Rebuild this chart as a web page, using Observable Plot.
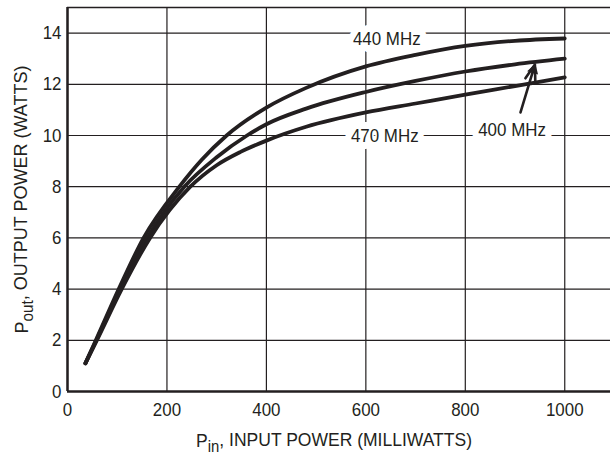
<!DOCTYPE html>
<html>
<head>
<meta charset="utf-8">
<script src="https://cdn.jsdelivr.net/npm/d3@7"></script>
<script src="https://cdn.jsdelivr.net/npm/@observablehq/plot@0.6"></script>
<style>
  html, body { margin: 0; padding: 0; background: #fff; }
  #chart svg { display: block; }
</style>
</head>
<body>
<div id="chart"></div>
<script>
// ---- data ----
const xTicks = [0, 200, 400, 600, 800, 1000];
const yTicks = [0, 2, 4, 6, 8, 10, 12, 14];

const pin440  = [36, 57, 103, 153, 225, 270, 320, 400, 480, 600, 700, 800, 900, 1000];
const pout440 = [1.1, 2.0, 4.0, 6.0, 8.0, 9.05, 10.0, 11.09, 11.86, 12.7, 13.15, 13.5, 13.7, 13.79];

const pin400  = [36, 58, 106, 160, 235, 300, 361, 400, 480, 600, 700, 800, 900, 1000];
const pout400 = [1.1, 2.0, 4.0, 6.0, 8.0, 9.15, 10.0, 10.44, 11.05, 11.7, 12.13, 12.5, 12.78, 13.0];

const pin470  = [36, 59, 109, 166, 247, 300, 348, 400, 480, 600, 700, 800, 900, 1000];
const pout470 = [1.1, 2.0, 4.0, 6.0, 8.0, 8.84, 9.36, 9.8, 10.34, 10.9, 11.25, 11.6, 11.93, 12.27];

const labelText = ["440 MHz", "470 MHz", "400 MHz"];
const labelX = [642, 638, 894];
const labelY = [13.76, 10.0, 10.2];

const arrowFrom = [911, 10.9];
const arrowTo = [940, 12.77];

const xTitle = "Pin, INPUT POWER (MILLIWATTS)";
const yTitle = "Pout, OUTPUT POWER (WATTS)";

// ---- build table ----
const rows = [];
[["440", pin440, pout440], ["400", pin400, pout400], ["470", pin470, pout470]].forEach(([f, xs, ys]) => {
  xs.forEach((x, i) => rows.push({freq: f, pin: x, pout: ys[i]}));
});
const labels = labelText.map((t, i) => ({t, x: labelX[i], y: labelY[i]}));

const ink = "#231f20";
const font = "'Liberation Sans Narrow', 'Arial Narrow', 'Liberation Sans', Arial, sans-serif";
const fs = 19;

const chart = Plot.plot({
  width: 610,
  height: 455,
  marginLeft: 67,
  marginRight: 0,
  marginTop: 7,
  marginBottom: 64,
  style: {fontFamily: font, fontSize: fs + "px", color: ink, background: "#fff"},
  x: {domain: [0, 1092]},
  y: {domain: [0, 15]},
  marks: [
    Plot.gridX(xTicks, {stroke: ink, strokeOpacity: 1, strokeWidth: 1.2}),
    Plot.gridY(yTicks, {stroke: ink, strokeOpacity: 1, strokeWidth: 1.2}),
    Plot.ruleY([15], {stroke: ink, strokeWidth: 1.3}),
    Plot.text(labels, {x: "x", y: "y", text: "t", fill: ink, stroke: "#fff", strokeWidth: 14, fontSize: fs}),
    Plot.line(rows, {x: "pin", y: "pout", z: "freq", stroke: ink, strokeWidth: 3.8, curve: "monotone-x"}),
    Plot.arrow([0], {x1: () => arrowFrom[0], y1: () => arrowFrom[1], x2: () => arrowTo[0], y2: () => arrowTo[1],
      stroke: ink, strokeWidth: 2.6, headLength: 11, headAngle: 36}),
    Plot.dot([0], {x: () => arrowTo[0], y: () => arrowTo[1], symbol: "triangle", r: 4.2, fill: ink,
      rotate: 16, dx: -1.4, dy: 5.2}),
    Plot.ruleX([0], {stroke: ink, strokeWidth: 2.5}),
    Plot.ruleY([0], {stroke: ink, strokeWidth: 2.5}),
    Plot.axisX(xTicks, {tickSize: 0, tickPadding: 11, label: null, fontSize: fs, fill: ink, tickFormat: d => String(d)}),
    Plot.axisY(yTicks, {tickSize: 0, tickPadding: 6, label: null, fontSize: fs, fill: ink, tickFormat: d => String(d)}),
    Plot.text([xTitle], {frameAnchor: "bottom", dy: 55, dx: -5, lineAnchor: "bottom", textAnchor: "middle", fontSize: fs, fill: ink}),
    Plot.text([yTitle], {frameAnchor: "left", dx: -40, rotate: -90, lineAnchor: "bottom", textAnchor: "middle", fontSize: fs, fill: ink})
  ]
});

document.getElementById("chart").appendChild(chart);

// subscripts for P_in and P_out
function subscript(full, sub) {
  const found = [];
  d3.select(chart).selectAll("text").filter(function () { return this.textContent === full; })
    .each(function () {
      const el = d3.select(this);
      const rest = full.slice(1 + sub.length);
      el.text(null);
      el.append("tspan").text("P");
      el.append("tspan").attr("dy", "0.32em").attr("font-size", "85%").text(sub);
      el.append("tspan").attr("dy", "-0.28em").text(rest);
      found.push(this);
    });
  return found[0];
}
const xT = subscript(xTitle, "in");
const yT = subscript(yTitle, "out");

// condense glyphs horizontally to mimic the narrow typeface of the reference
d3.select(chart).selectAll("text").each(function () {
  if (this === xT || this === yT) return;
  const len = this.getComputedTextLength();
  if (len > 0) {
    this.setAttribute("textLength", (len * 0.89).toFixed(1));
    this.setAttribute("lengthAdjust", "spacingAndGlyphs");
  }
});
if (xT) { xT.setAttribute("textLength", 276); xT.setAttribute("lengthAdjust", "spacingAndGlyphs"); }
if (yT) { yT.setAttribute("textLength", 268); yT.setAttribute("lengthAdjust", "spacingAndGlyphs"); }
</script>
</body>
</html>
